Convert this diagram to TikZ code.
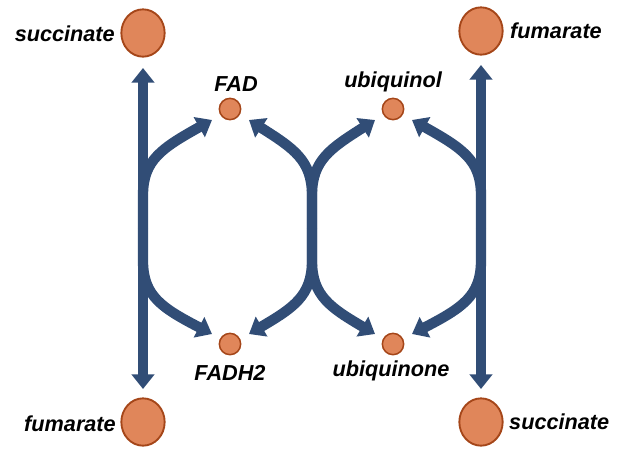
\documentclass[tikz,border=0pt]{standalone}
\usepackage{fontspec}
\setmainfont{Liberation Sans}
\usetikzlibrary{arrows.meta,shapes.geometric}
\definecolor{arrowblue}{RGB}{49,77,118}
\definecolor{ballfill}{RGB}{224,134,90}
\definecolor{balledge}{RGB}{165,70,25}
\tikzset{
  bigball/.style={ellipse,draw=balledge,line width=1.6pt,fill=ballfill,minimum width=1.3cm,minimum height=1.42cm,inner sep=0pt},
  smallball/.style={circle,draw=balledge,line width=1.3pt,fill=ballfill,minimum size=0.64cm,inner sep=0pt},
  lbl/.style={font=\fontsize{18.5}{20}\selectfont\bfseries\itshape,inner sep=0pt},
  flow/.style={draw=arrowblue,line width=8.8pt,-{Triangle[width=19pt,length=12.5pt]}}
}
\begin{document}
\begin{tikzpicture}[x=0.03cm,y=-0.03cm]
\useasboundingbox (0,0) rectangle (622,464);
% big balls
\node[bigball] (succT) at (143,33) {};
\node[bigball] (fumT) at (481,31) {};
\node[bigball] (fumB) at (143,422) {};
\node[bigball] (succB) at (481,422) {};
% small balls
\node[smallball] (fad) at (230,109) {};
\node[smallball] (ubol) at (393,109) {};
\node[smallball] (fadh) at (230,344) {};
\node[smallball] (ubone) at (393,344) {};
% labels
\node[lbl,anchor=east] (tsuccT) at (115,34) {succinate};
\node[lbl,anchor=west] (tfumT) at (510,31) {fumarate};
\node[lbl,anchor=east] (tfumB) at (116,424) {fumarate};
\node[lbl,anchor=west] (tsuccB) at (509,422) {succinate};
\node[lbl] (tfad) at (236,84) {FAD};
\node[lbl] (tubol) at (393,82) {ubiquinol};
\node[lbl] (tfadh) at (230,373) {FADH2};
\node[lbl] (tubone) at (391,371) {ubiquinone};
% junction points and tips
\coordinate (jL) at (143,228);
\coordinate (jM) at (312,228);
\coordinate (jR) at (481,228);
\coordinate (tipLU) at (143,68);
\coordinate (tipLD) at (143,389);
\coordinate (tipRU) at (481,65);
\coordinate (tipRD) at (481,389);
\coordinate (a1) at (212,120);
\coordinate (a2) at (249,120);
\coordinate (a3) at (375,120);
\coordinate (a4) at (412,120);
\coordinate (b1) at (212,334);
\coordinate (b2) at (249,334);
\coordinate (b3) at (375,334);
\coordinate (b4) at (412,334);
% vertical arrows
\draw[flow] (jL) -- (tipLU);
\draw[flow] (jL) -- (tipLD);
\draw[flow] (jR) -- (tipRU);
\draw[flow] (jR) -- (tipRD);
% curved arrows, top
\draw[flow] (jL) -- (143,195) .. controls (143,160) and (162,148) .. (a1);
\draw[flow] (jM) -- (312,195) .. controls (312,160) and (293,148) .. (a2);
\draw[flow] (jM) -- (312,195) .. controls (312,160) and (331,148) .. (a3);
\draw[flow] (jR) -- (481,195) .. controls (481,160) and (462,148) .. (a4);
% curved arrows, bottom
\draw[flow] (jL) -- (143,261) .. controls (143,296) and (162,308) .. (b1);
\draw[flow] (jM) -- (312,261) .. controls (312,296) and (293,308) .. (b2);
\draw[flow] (jM) -- (312,261) .. controls (312,296) and (331,308) .. (b3);
\draw[flow] (jR) -- (481,261) .. controls (481,296) and (462,308) .. (b4);
\end{tikzpicture}
\end{document}
